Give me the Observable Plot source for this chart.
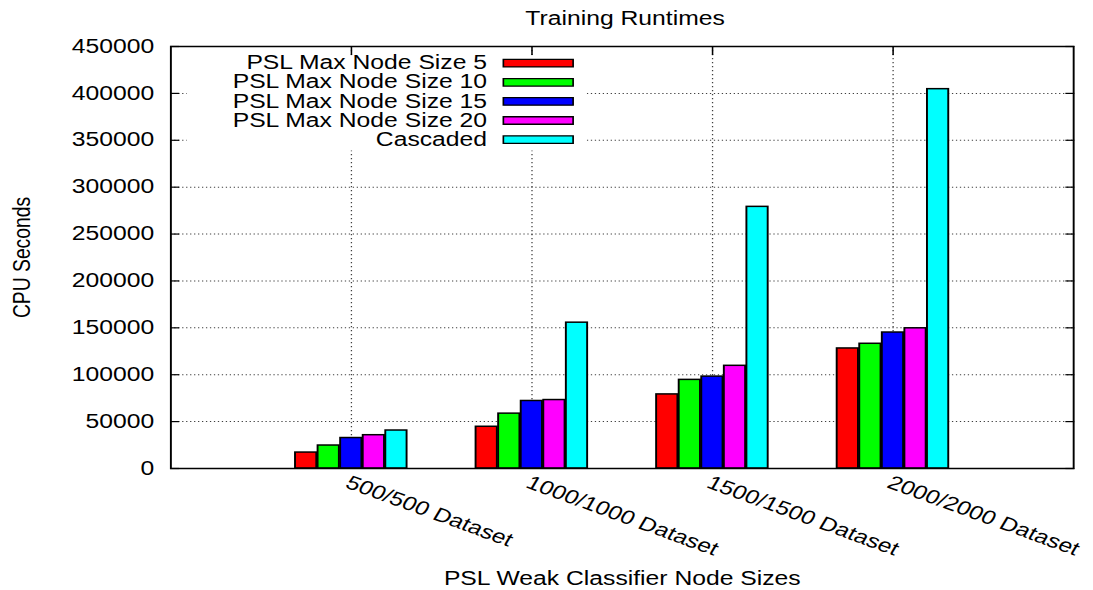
<!DOCTYPE html>
<html>
<head>
<meta charset="utf-8">
<script src="https://cdn.jsdelivr.net/npm/d3@7"></script>
<script src="https://cdn.jsdelivr.net/npm/@observablehq/plot@0.6"></script>
<style>
  html, body { margin: 0; padding: 0; background: white; }
</style>
</head>
<body>
<div id="chart"></div>
<script>
const categories = ["500/500 Dataset", "1000/1000 Dataset", "1500/1500 Dataset", "2000/2000 Dataset"];
const series = ["PSL Max Node Size 5", "PSL Max Node Size 10", "PSL Max Node Size 15", "PSL Max Node Size 20", "Cascaded"];
const size5 = [17000, 44500, 79000, 128000];
const size10 = [24500, 58500, 94500, 133000];
const size15 = [32500, 72000, 98000, 145000];
const size20 = [35500, 73000, 109500, 149500];
const cascaded = [40500, 155500, 279000, 404500];
const colors = ["#ff0000", "#00ff00", "#0000ff", "#ff00ff", "#00ffff"];
const yTicks = [0, 50000, 100000, 150000, 200000, 250000, 300000, 350000, 400000, 450000];
const title = "Training Runtimes";
const xLabel = "PSL Weak Classifier Node Sizes";
const yLabel = "CPU Seconds";

const seriesValues = [size5, size10, size15, size20, cascaded];
const rows = [];
seriesValues.forEach((vals, si) => vals.forEach((v, ci) => rows.push({cat: categories[ci], ci, series: series[si], si, value: v})));

const S = 1.28;               // horizontal stretch of the original image
const W = 1093 / S;           // logical width
const H = 590;
const barW = 0.125;

function rectSymbol(w, h) {
  return {draw(ctx) { ctx.rect(-w / 2, -h / 2, w, h); }};
}

const legendMarks = [];
series.forEach((s, i) => {
  legendMarks.push(Plot.text([s], {frameAnchor: "top-left", text: d => d, dx: 247, dy: 16.7 + i * 19.1, textAnchor: "end", lineAnchor: "middle"}));
  legendMarks.push(Plot.dot([s], {frameAnchor: "top-left", dx: 287, dy: 16.7 + i * 19.1, symbol: rectSymbol(54.5, 7.5), fill: d => d, stroke: "black", strokeWidth: 1.3}));
});

const svg = Plot.plot({
  width: W,
  height: H,
  marginLeft: 133,
  marginRight: W - 838.3,
  marginTop: 46,
  marginBottom: 122,
  x: {domain: [-1, 4], axis: null},
  y: {domain: [0, 450000], axis: null},
  color: {domain: series, range: colors},
  style: {fontFamily: "'Liberation Sans', Arial, sans-serif", fontSize: "19.3px", color: "black", background: "white", overflow: "visible"},
  marks: [
    Plot.ruleY(yTicks.slice(1, -1), {stroke: "#000", strokeOpacity: 0.75, strokeWidth: 1, strokeDasharray: "1,2.1"}),
    Plot.ruleX([0, 1, 2, 3], {stroke: "#000", strokeOpacity: 0.75, strokeWidth: 1, strokeDasharray: "1.3,2.7"}),
    Plot.dot(["bg"], {frameAnchor: "top-left", dx: 168.6, dy: 56.5, symbol: rectSymbol(312.5, 95), fill: "white", stroke: "none"}),
    Plot.axisY(yTicks, {anchor: "left", tickSize: -7, fill: "none", label: null, strokeWidth: 1.2}),
    Plot.axisY(yTicks, {anchor: "right", tickSize: -7, fill: "none", label: null, strokeWidth: 1.2}),
    Plot.axisX([0, 1, 2, 3], {anchor: "top", tickSize: -8, fill: "none", label: null, strokeWidth: 1.2}),
    Plot.axisX([0, 1, 2, 3], {anchor: "bottom", tickSize: -8, fill: "none", label: null, strokeWidth: 1.2}),
    Plot.axisY(yTicks, {anchor: "left", tickSize: 0, tickPadding: 13, label: null, tickFormat: d => String(d)}),
    Plot.rect(rows, {
      x1: d => d.ci + (d.si - 2.5) * barW,
      x2: d => d.ci + (d.si - 1.5) * barW,
      y1: 0,
      y2: "value",
      fill: "series",
      stroke: "black",
      strokeWidth: 1.5,
      insetLeft: 0.5,
      insetRight: 0.5
    }),
    ...legendMarks,
    Plot.text(categories, {x: (d, i) => i, frameAnchor: "bottom", text: d => d, rotate: 25, textAnchor: "start", lineAnchor: "top", dy: 6, dx: 0}),
    Plot.text([title], {frameAnchor: "top", text: d => d, dy: -28, dx: 2.2, lineAnchor: "middle"}),
    Plot.text([xLabel], {frameAnchor: "bottom", text: d => d, dy: 110, lineAnchor: "middle"}),
    Plot.text([yLabel], {frameAnchor: "left", text: d => d, dx: 16.4 - 133, rotate: -90, textAnchor: "middle", lineAnchor: "middle"}),
    Plot.frame({stroke: "black", strokeWidth: 1.5})
  ]
});

svg.setAttribute("width", 1093);
svg.setAttribute("height", H);
svg.setAttribute("preserveAspectRatio", "none");
svg.style.width = "1093px";
svg.style.height = H + "px";
svg.style.maxWidth = "none";
document.getElementById("chart").appendChild(svg);
</script>
</body>
</html>
